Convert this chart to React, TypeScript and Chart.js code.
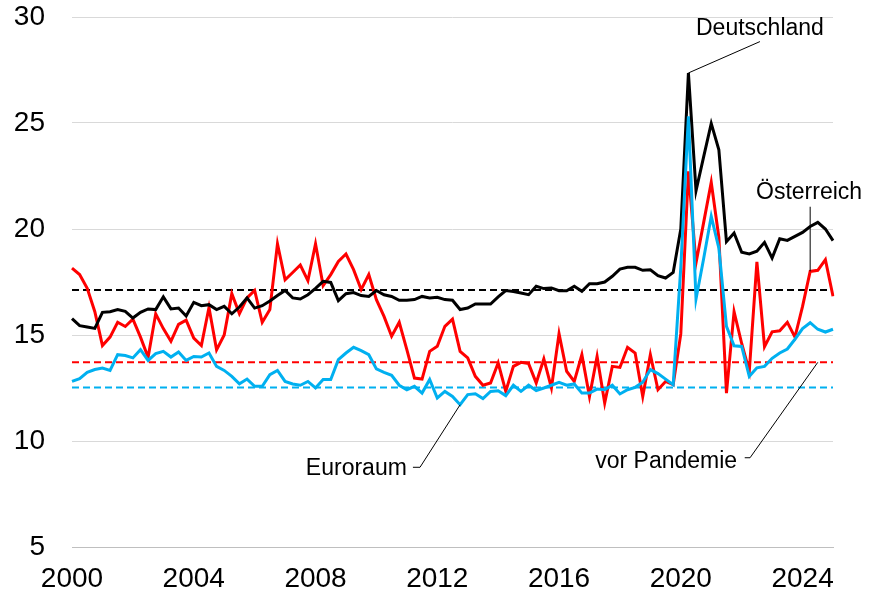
import React, { useEffect, useRef } from 'react';
import { Chart, registerables } from 'chart.js';

Chart.register(...registerables);

// Quarterly categories 2000Q1 .. 2025Q1
const START_YEAR = 2000;
const QUARTERS: string[] = [];
for (let y = START_YEAR; y <= 2024; y++) {
  for (let q = 1; q <= 4; q++) QUARTERS.push(`${y}Q${q}`);
}
QUARTERS.push('2025Q1');

const X_TICK_YEARS = ['2000', '2004', '2008', '2012', '2016', '2020', '2024'];
const Y_TICKS = [5, 10, 15, 20, 25, 30];

const DEUTSCHLAND = [
  15.77, 15.44, 15.38, 15.31, 16.07, 16.1, 16.2, 16.12, 15.8, 16.07,
  16.23, 16.2, 16.8, 16.23, 16.27, 15.9, 16.54, 16.38, 16.43, 16.2,
  16.35, 16.0, 16.32, 16.75, 16.27, 16.38, 16.6, 16.86, 17.1, 16.75,
  16.7, 16.9, 17.2, 17.53, 17.48, 16.62, 16.95, 17.0, 16.86, 16.82,
  17.1, 16.9, 16.82, 16.64, 16.64, 16.67, 16.82, 16.75, 16.78, 16.67,
  16.64, 16.2, 16.27, 16.46, 16.46, 16.46, 16.8, 17.1, 17.05, 16.98,
  16.9, 17.3, 17.19, 17.22, 17.09, 17.09, 17.3, 17.06, 17.42, 17.42,
  17.5, 17.77, 18.11, 18.19, 18.19, 18.05, 18.08, 17.8, 17.69, 17.95,
  20.0, 27.36, 21.8, 23.4, 24.98, 23.74, 19.4, 19.81, 18.9, 18.82,
  18.95, 19.37, 18.63, 19.54, 19.46, 19.65, 19.84, 20.12, 20.31, 20.0,
  19.45,
];

const OESTERREICH = [
  18.15, 17.85, 17.2, 16.1, 14.5, 14.9, 15.6, 15.4, 15.75, 14.9,
  13.95, 16.0, 15.3, 14.7, 15.5, 15.7, 14.85, 14.5, 16.3, 14.3,
  15.0, 16.95, 16.0, 16.75, 17.1, 15.6, 16.2, 19.3, 17.6, 17.95,
  18.3, 17.56, 19.3, 17.33, 17.85, 18.47, 18.82, 18.08, 17.14, 17.85,
  16.67, 15.88, 14.94, 15.6, 14.31, 12.97, 12.92, 14.23, 14.47, 15.41,
  15.75, 14.23, 13.92, 13.05, 12.63, 12.74, 13.68, 12.34, 13.52, 13.71,
  13.65, 12.74, 13.87, 12.5, 15.06, 13.29, 12.81, 14.07, 12.1, 13.99,
  11.79, 13.52, 13.47, 14.42, 14.15, 12.1, 14.07, 12.42, 12.81, 12.66,
  15.05, 22.72, 18.4, 20.3, 22.2, 19.6, 12.26, 16.1, 14.6, 13.3,
  18.45, 14.45, 15.15, 15.2, 15.6, 14.9, 16.35, 18.0, 18.05, 18.55,
  16.83,
];

const EURORAUM = [
  12.81, 12.94, 13.24, 13.37, 13.44, 13.33, 14.07, 14.03, 13.92, 14.31,
  13.8, 14.12, 14.23, 13.96, 14.2, 13.8, 13.99, 13.96, 14.15, 13.52,
  13.33, 13.05, 12.7, 12.92, 12.58, 12.58, 13.13, 13.33, 12.81, 12.69,
  12.63, 12.81, 12.5, 12.9, 12.9, 13.84, 14.15, 14.42, 14.26, 14.07,
  13.4, 13.24, 13.1, 12.63, 12.42, 12.58, 12.26, 12.9, 12.03, 12.34,
  12.1, 11.71, 12.19, 12.23, 12.0, 12.34, 12.37, 12.14, 12.63, 12.34,
  12.63, 12.38, 12.5, 12.63, 12.77, 12.63, 12.69, 12.26, 12.26, 12.45,
  12.42, 12.63, 12.22, 12.42, 12.53, 12.77, 13.37, 13.18, 12.92, 12.66,
  18.2, 25.31, 16.7, 18.6, 20.6, 19.1, 15.41, 14.49, 14.46, 13.05,
  13.45, 13.52, 13.9, 14.15, 14.34, 14.8, 15.3, 15.58, 15.27, 15.14,
  15.27,
];

// Pre-pandemic averages (dashed reference lines)
const VOR_PANDEMIE_DE = 17.12;
const VOR_PANDEMIE_AT = 13.71;
const VOR_PANDEMIE_EA = 12.52;

const BLACK = '#000000';
const RED = '#FF0000';
const BLUE = '#00B0F0';
const FONT_FAMILY = '"Liberation Sans", Arial, Helvetica, sans-serif';

const annotationPlugin = {
  id: 'labelsAndLeaders',
  afterDraw(chart: any) {
    const { ctx } = chart;
    const xs = chart.scales.x;
    const ys = chart.scales.y;
    const px = (i: number) => xs.getPixelForValue(i);
    const py = (v: number) => ys.getPixelForValue(v);
    ctx.save();
    ctx.fillStyle = '#000';
    ctx.strokeStyle = '#000';
    ctx.lineWidth = 1;
    ctx.font = `23px ${FONT_FAMILY}`;
    ctx.textBaseline = 'alphabetic';

    // Deutschland
    ctx.textAlign = 'center';
    ctx.fillText('Deutschland', px(90.4), py(29.165));
    ctx.beginPath();
    ctx.moveTo(px(90.4), py(28.84));
    ctx.lineTo(px(81), py(DEUTSCHLAND[81]));
    ctx.stroke();

    // Österreich
    ctx.fillText('Österreich', px(96.85), py(21.43));
    ctx.beginPath();
    ctx.moveTo(px(97), py(21.05));
    ctx.lineTo(px(97), py(OESTERREICH[97]));
    ctx.stroke();

    // Euroraum
    ctx.textAlign = 'right';
    ctx.fillText('Euroraum', px(44.0), py(8.41));
    ctx.beginPath();
    ctx.moveTo(px(44.8), py(8.76));
    ctx.lineTo(px(45.73), py(8.76));
    ctx.lineTo(px(51), py(EURORAUM[51]));
    ctx.stroke();

    // vor Pandemie
    ctx.fillText('vor Pandemie', px(87.4), py(8.74));
    ctx.beginPath();
    ctx.moveTo(px(88.4), py(9.21));
    ctx.lineTo(px(89.1), py(9.21));
    ctx.lineTo(px(98), py(VOR_PANDEMIE_AT));
    ctx.stroke();

    ctx.restore();
  },
};

export default function App() {
  const canvasRef = useRef<HTMLCanvasElement | null>(null);

  useEffect(() => {
    const canvas = canvasRef.current;
    if (!canvas) return;
    const flat = (v: number) => QUARTERS.map(() => v);
    const chart = new Chart(canvas, {
      type: 'line',
      data: {
        labels: QUARTERS,
        datasets: [
          { label: 'Euroraum', data: EURORAUM, borderColor: BLUE, borderWidth: 3, pointRadius: 0, tension: 0, order: 1 },
          { label: 'Deutschland', data: DEUTSCHLAND, borderColor: BLACK, borderWidth: 3, pointRadius: 0, tension: 0, order: 2 },
          { label: 'Österreich', data: OESTERREICH, borderColor: RED, borderWidth: 3, pointRadius: 0, tension: 0, order: 3 },
          { label: 'vor Pandemie DE', data: flat(VOR_PANDEMIE_DE), borderColor: BLACK, borderWidth: 2, borderDash: [7, 4], pointRadius: 0, order: 4 },
          { label: 'vor Pandemie AT', data: flat(VOR_PANDEMIE_AT), borderColor: RED, borderWidth: 2, borderDash: [7, 4], pointRadius: 0, order: 4 },
          { label: 'vor Pandemie EA', data: flat(VOR_PANDEMIE_EA), borderColor: BLUE, borderWidth: 2, borderDash: [7, 4], pointRadius: 0, order: 4 },
        ],
      },
      options: {
        responsive: false,
        animation: false,
        devicePixelRatio: 1,
        layout: { padding: { left: 0, right: 45, top: 17, bottom: 0 } },
        plugins: { legend: { display: false }, tooltip: { enabled: false } },
        scales: {
          x: {
            type: 'category',
            offset: false,
            grid: { display: false, drawTicks: false },
            border: { display: true, color: '#BFBFBF', width: 1 },
            ticks: {
              autoSkip: false,
              maxRotation: 0,
              minRotation: 0,
              padding: 15,
              color: '#000',
              font: { size: 28, family: FONT_FAMILY },
              callback: function (this: any, val: any) {
                const lab = String(this.getLabelForValue(val));
                const yr = lab.slice(0, 4);
                return lab.endsWith('Q1') && X_TICK_YEARS.includes(yr) ? yr : '';
              },
            },
            afterFit: (scale: any) => { scale.height = 48; },
          },
          y: {
            min: Y_TICKS[0],
            max: Y_TICKS[Y_TICKS.length - 1],
            grid: { color: '#D9D9D9', lineWidth: 1, drawTicks: true, tickLength: 27, tickColor: 'rgba(0,0,0,0)' },
            border: { display: false },
            ticks: {
              stepSize: 5,
              padding: 0,
              color: '#000',
              font: { size: 28, family: FONT_FAMILY },
            },
            afterFit: (scale: any) => { scale.width = 72; },
          },
        },
      },
      plugins: [annotationPlugin],
    });
    return () => chart.destroy();
  }, []);

  return (
    <div style={{ position: 'fixed', left: 0, top: 0, width: 878, height: 595, background: '#fff' }}>
      <canvas ref={canvasRef} width={878} height={595} style={{ display: 'block', width: 878, height: 595 }} />
    </div>
  );
}
